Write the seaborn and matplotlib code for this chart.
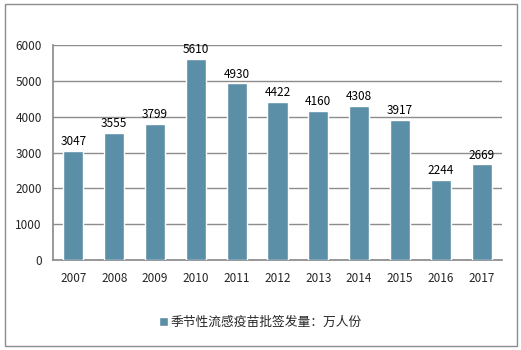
import matplotlib
matplotlib.use("Agg")
import matplotlib.pyplot as plt
from matplotlib.patches import Rectangle
import seaborn as sns
import pandas as pd

years = ["2007", "2008", "2009", "2010", "2011", "2012", "2013", "2014", "2015", "2016", "2017"]
doses = [3047, 3555, 3799, 5610, 4930, 4422, 4160, 4308, 3917, 2244, 2669]
series_name = "季节性流感疫苗批签发量：万人份"
y_ticks = [0, 1000, 2000, 3000, 4000, 5000, 6000]

sns.set_theme(style="white")
plt.rcParams["font.family"] = ["Noto Sans CJK SC", "DejaVu Sans"]

bar_color = "#5B8FA8"
df = pd.DataFrame({"year": years, "value": doses})

fig = plt.figure(figsize=(5.21, 3.50), dpi=100)
ax = fig.add_axes([53 / 521, 1 - 260 / 350, (502 - 53) / 521, (260 - 45) / 350])

sns.barplot(data=df, x="year", y="value", color=bar_color, width=0.49,
            saturation=1, ax=ax, label=series_name, zorder=3)

ax.set_ylim(0, 6000)
ax.set_yticks(y_ticks)
ax.set_yticklabels([str(t) for t in y_ticks], fontsize=8.5)
ax.set_xlabel("")
ax.set_ylabel("")
ax.tick_params(axis="x", labelsize=8.5, length=0, pad=9)
ax.tick_params(axis="y", length=0, pad=8)
ax.grid(axis="y", color="#8C8C8C", linewidth=1, zorder=0)
for side in ["top", "right"]:
    ax.spines[side].set_visible(False)
ax.spines["left"].set_color("#8C8C8C")
ax.spines["bottom"].set_color("#8C8C8C")

for i, v in enumerate(doses):
    ax.text(i, v + 70, str(v), ha="center", va="bottom", fontsize=8.5, color="black")

ax.legend(loc="center", bbox_to_anchor=(0.462, -0.29), frameon=False, fontsize=9.2,
          handlelength=0.7, handleheight=0.7, handletextpad=0.2)

fig.patches.append(Rectangle((5 / 521, 4 / 350), 512 / 521, 342 / 350, transform=fig.transFigure,
                             fill=False, edgecolor="#8C8C8C", linewidth=1))

fig.savefig("out.png", dpi=100)
